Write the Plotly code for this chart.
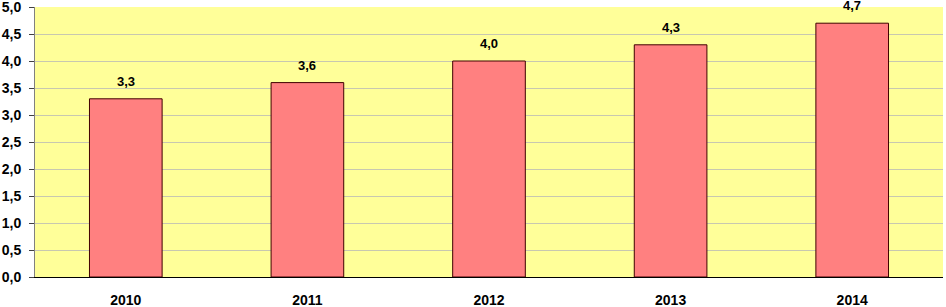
import plotly.graph_objects as go

years = ["2010", "2011", "2012", "2013", "2014"]
values = [3.3, 3.6, 4.0, 4.3, 4.7]
labels = ["3,3", "3,6", "4,0", "4,3", "4,7"]
ytick_vals = [0, 0.5, 1, 1.5, 2, 2.5, 3, 3.5, 4, 4.5, 5]
ytick_text = ["0,0", "0,5", "1,0", "1,5", "2,0", "2,5", "3,0", "3,5", "4,0", "4,5", "5,0"]

fig = go.Figure(go.Bar(
    x=years, y=values,
    marker=dict(color="#FF8080", line=dict(color="#400000", width=1)),
))
for i, (yv, tv) in enumerate(zip(values, labels)):
    fig.add_annotation(x=i, y=yv, text=tv, showarrow=False, yanchor="bottom",
                       yshift=8, font=dict(family="Arial, Liberation Sans", size=13,
                                           color="black", weight="bold"))
fig.update_layout(
    width=946, height=307,
    margin=dict(l=35, r=3, t=7, b=30, autoexpand=False),
    paper_bgcolor="white", plot_bgcolor="#FFFF99",
    bargap=0.6, showlegend=False,
    font=dict(family="Arial, Liberation Sans", size=14, color="black"),
)
fig.update_yaxes(range=[0, 5], tickvals=ytick_vals, ticktext=ytick_text,
                 showgrid=True, gridcolor="#C8C8B0", gridwidth=1,
                 showline=True, linecolor="#808080", linewidth=1,
                 ticks="outside", ticklen=5, tickcolor="#404040",
                 ticklabelstandoff=5, automargin=False, ticklabeloverflow="allow",
                 tickfont=dict(size=14, weight="bold"), zeroline=False)
fig.update_xaxes(type="category", range=[-0.5, len(years) - 0.5],
                 showline=True, linecolor="black", linewidth=1, ticks="",
                 ticklabelstandoff=10, automargin=False, ticklabeloverflow="allow",
                 tickfont=dict(size=14, weight="bold"))
fig.write_html("out.html", config={"displayModeBar": False},
               post_script="document.body.style.margin='0';document.body.style.overflow='hidden';")
